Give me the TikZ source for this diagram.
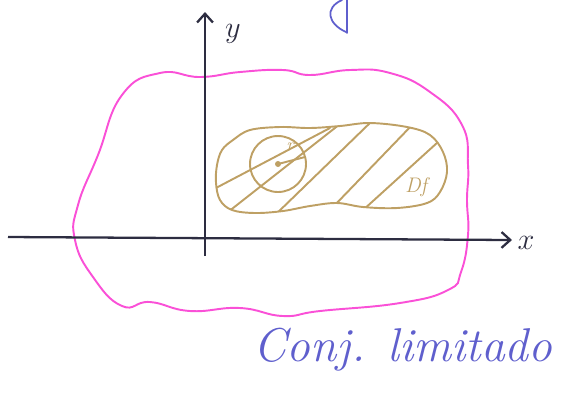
\documentclass[tikz,border=0pt]{standalone}
\usetikzlibrary{arrows.meta}
\definecolor{penink}{RGB}{45,45,65}
\definecolor{pink}{RGB}{250,80,215}
\definecolor{sand}{RGB}{190,160,100}
\definecolor{violet}{RGB}{95,95,205}
\begin{document}
\begin{tikzpicture}[x=0.02cm,y=-0.02cm,every node/.style={inner sep=0pt},
  axis/.style={draw=penink, line width=1.3pt, -{Straight Barb[length=5pt,width=9pt]}},
  sandline/.style={draw=sand, line width=1.1pt, line cap=round}]
\useasboundingbox (0,0) rectangle (563,407);
% the whole set (pink blob)
\draw[pink, line width=1.1pt] plot[smooth cycle, tension=0.8] coordinates {
  (98,155) (122,95) (160,73) (200,77) (240,72) (283,70) (310,75) (350,70)
  (390,73) (430,92) (462,125) (468,165) (467,200) (468,235) (461,272) (448,290)
  (400,303) (320,311) (283,316) (240,308) (190,311) (150,302) (122,306)
  (93,277) (75,240) (78,205)};
% axes
\coordinate (xstart) at (8,237);
\coordinate (xend) at (512,240);
\coordinate (ystart) at (205,256);
\coordinate (yend) at (205,12);
\draw[axis] (xstart) -- (xend);
\draw[axis] (ystart) -- (yend);
\node[text=penink, font=\LARGE] (xlab) at (526,243) {$x$};
\node[text=penink, font=\LARGE] (ylab) at (233,34) {$y$};
% domain Df with hatching
\begin{scope}
\clip plot[smooth cycle, tension=0.6] coordinates {
  (217,165) (222,150) (233,140) (250,130) (280,127) (310,128) (340,126) (370,123)
  (407,127) (430,135) (443,152) (447,172) (440,192) (427,203) (397,208) (363,207)
  (337,203) (310,206) (283,211) (255,213) (232,210) (220,200) (216,183)};
\foreach \ax/\ay/\bx/\by in {214/189/330/128, 228/212/340/124, 272/218/372/121,
    332/208/414/123, 362/211/438/142}{
  \draw[sandline] (\ax,\ay) -- (\bx,\by);
}
\end{scope}
\draw[sandline] plot[smooth cycle, tension=0.6] coordinates {
  (217,165) (222,150) (233,140) (250,130) (280,127) (310,128) (340,126) (370,123)
  (407,127) (430,135) (443,152) (447,172) (440,192) (427,203) (397,208) (363,207)
  (337,203) (310,206) (283,211) (255,213) (232,210) (220,200) (216,183)};
% ball of radius r
\coordinate (ctr) at (278,164);
\coordinate (rim) at (305,157);
\draw[sandline] (ctr) circle[radius=28];
\fill[sand] (ctr) circle[radius=3];
\draw[sandline] (ctr) -- (rim);
\node[text=sand, font=\itshape] (rlab) at (290,147) {r};
\node[text=sand, font=\large\itshape] (dflab) at (416,187) {Df};
% stray stroke at the top
\draw[violet, line width=1pt, line cap=round] (342,0) .. controls (324,8) and (328,24) .. (346,32);
\draw[violet, line width=1pt, line cap=round] (347,0) -- (347,33);
% caption
\node[text=violet, font=\fontsize{27}{30}\selectfont\itshape] (caption) at (403,350) {Conj. limitado};
\end{tikzpicture}
\end{document}
